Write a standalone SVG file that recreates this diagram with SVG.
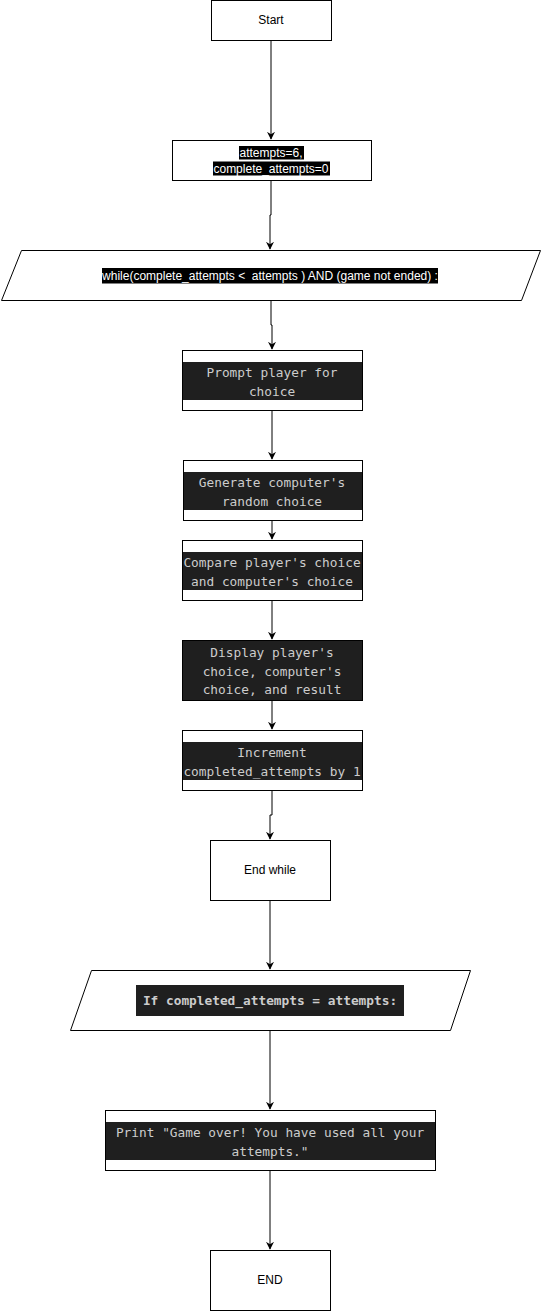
<svg xmlns="http://www.w3.org/2000/svg" width="541" height="1311" viewBox="0 0 541 1311">
<style>
.box{fill:#fff;stroke:#000;stroke-width:1}
.sans{font-family:"Liberation Sans",Arial,sans-serif;font-size:12px;fill:#000;text-anchor:middle}
.sansw{font-family:"Liberation Sans",Arial,sans-serif;font-size:12px;fill:#fff;text-anchor:middle}
.mono{font-family:"DejaVu Sans Mono","Liberation Mono",monospace;font-size:12.8px;fill:#cccccc;text-anchor:middle}
.hl{fill:#1f1f1f}
.hlb{fill:#000}
.edge{fill:none;stroke:#000;stroke-width:1}
</style>
<defs>
<marker id="arr" viewBox="0 0 10 10" refX="9" refY="5" markerWidth="8" markerHeight="8" markerUnits="userSpaceOnUse" orient="auto">
<path d="M0,0 L10,5 L0,10 L3,5 Z" fill="#000"/>
</marker>
</defs>
<rect width="541" height="1311" fill="#fff"/>
<g id="connectors">
<path class="edge" d="M271,40 V139" marker-end="url(#arr)"/>
<path class="edge" d="M271,180 V215 H270 V249" marker-end="url(#arr)"/>
<path class="edge" d="M271,300 V325 H272 V349" marker-end="url(#arr)"/>
<path class="edge" d="M272,410 V459" marker-end="url(#arr)"/>
<path class="edge" d="M272,520 V539" marker-end="url(#arr)"/>
<path class="edge" d="M272,600 V639" stroke="#555" marker-end="url(#arr)"/>
<path class="edge" d="M272,700 V729" marker-end="url(#arr)"/>
<path class="edge" d="M272,790 V815 H270 V839" marker-end="url(#arr)"/>
<path class="edge" d="M270,900 V969" marker-end="url(#arr)"/>
<path class="edge" d="M270,1030 V1109" marker-end="url(#arr)"/>
<path class="edge" d="M270,1170 V1249" marker-end="url(#arr)"/>
</g>
<g id="start">
<rect class="box" x="211.5" y="0.5" width="120" height="40"/>
<text class="sans" x="271" y="24">Start</text>
</g>
<g id="init">
<rect class="box" x="172.5" y="140.5" width="199" height="40"/>
<rect class="hlb" x="239" y="146" width="65" height="13.5"/>
<rect class="hlb" x="213" y="161.5" width="117" height="14"/>
<text class="sansw" x="271" y="157">attempts=6,</text>
<text class="sansw" x="271" y="173">complete_attempts=0</text>
</g>
<g id="while">
<polygon class="box" points="21.5,250.5 540.5,250.5 521.5,300.5 1.5,300.5"/>
<rect class="hlb" x="102" y="268" width="336" height="15.5"/>
<text class="sansw" x="270" y="280" xml:space="preserve" style="white-space:pre">while(complete_attempts &lt;  attempts ) AND (game not ended) :</text>
</g>
<g id="prompt">
<rect class="box" x="182.5" y="350.5" width="180" height="60"/>
<rect class="hl" x="183" y="362" width="179" height="38"/>
<text class="mono" x="272" y="376.5">Prompt player for</text>
<text class="mono" x="272" y="395.5">choice</text>
</g>
<g id="generate">
<rect class="box" x="183.5" y="460.5" width="179" height="60"/>
<rect class="hl" x="184" y="472" width="178" height="38"/>
<text class="mono" x="272" y="486.5">Generate computer's</text>
<text class="mono" x="272" y="505.5">random choice</text>
</g>
<g id="compare">
<rect class="box" x="182.5" y="540.5" width="180" height="60"/>
<rect class="hl" x="183" y="552" width="179" height="38"/>
<text class="mono" x="272" y="566.5">Compare player's choice</text>
<text class="mono" x="272" y="585.5">and computer's choice</text>
</g>
<g id="display">
<rect class="box" x="182.5" y="640.5" width="180" height="60"/>
<rect class="hl" x="183" y="641" width="179" height="59"/>
<text class="mono" x="272" y="657">Display player's</text>
<text class="mono" x="272" y="675.5">choice, computer's</text>
<text class="mono" x="272" y="694">choice, and result</text>
</g>
<g id="increment">
<rect class="box" x="182.5" y="730.5" width="180" height="60"/>
<rect class="hl" x="183" y="742" width="179" height="38"/>
<text class="mono" x="272" y="756.5">Increment</text>
<text class="mono" x="272" y="775.5">completed_attempts by 1</text>
</g>
<g id="endwhile">
<rect class="box" x="210.5" y="840.5" width="120" height="60"/>
<text class="sans" x="270" y="874">End while</text>
</g>
<g id="ifcheck">
<polygon class="box" points="91.5,970.5 470.5,970.5 450.5,1030.5 70.5,1030.5"/>
<rect class="hl" x="136" y="985" width="268" height="31"/>
<text class="mono" x="270" y="1005" font-weight="bold" font-size="12.6">If completed_attempts = attempts:</text>
</g>
<g id="print">
<rect class="box" x="105.5" y="1110.5" width="330" height="60"/>
<rect class="hl" x="106" y="1122" width="329" height="38"/>
<text class="mono" x="270" y="1136.5">Print "Game over! You have used all your</text>
<text class="mono" x="270" y="1155.5">attempts."</text>
</g>
<g id="end">
<rect class="box" x="210.5" y="1250.5" width="120" height="60"/>
<text class="sans" x="270" y="1284">END</text>
</g>
</svg>
